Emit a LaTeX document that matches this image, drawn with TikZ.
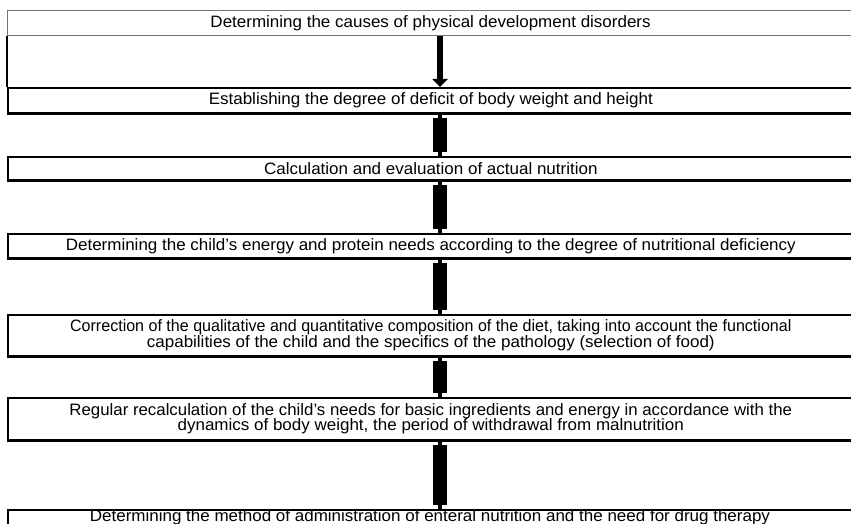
\documentclass[tikz,border=0pt]{standalone}
\usepackage{fontspec}
\usepackage{graphicx}
\setmainfont{Liberation Sans}[FakeStretch=1.03]
\usetikzlibrary{arrows.meta,calc}
\newcommand\boxfont{\fontsize{16.5}{15.5}\selectfont}
\newcommand\hsq[2]{\scalebox{#1}[1]{#2}}
\begin{document}
\begin{tikzpicture}[x=1pt,y=-1pt,
  box/.style={draw=black, line width=1.6pt, minimum width=846pt, inner sep=0pt,
              anchor=north west, align=center, font=\boxfont},
  graybox/.style={box, draw=black!55, line width=1.2pt},
  botline/.style={line width=3pt},
  nub/.style={line width=4pt},
  shaft/.style={line width=14pt},
  txt/.style={font=\boxfont, inner sep=0pt}]
\useasboundingbox (0,0) rectangle (851,524);
\clip (0,0) rectangle (851,524);
\coordinate (ax) at (440,0);

\node[graybox, minimum height=25pt] (b1) at (7,10) {Determining the causes of physical development disorders};
\node[box, minimum height=25pt] (b2) at (7,87) {Establishing the degree of deficit of body weight and height};
\node[box, minimum height=23pt] (b3) at (7,156) {Calculation and evaluation of actual nutrition};
\node[box, minimum height=24pt] (b4) at (7,233) {Determining the child's energy and protein needs according to the degree of nutritional deficiency};
\node[box, minimum height=41pt] (b5) at (7,314) {\hsq{0.945}{Correction of the qualitative and quantitative composition of the diet, taking into account the functional}\\capabilities of the child and the specifics of the pathology (selection of food)};
\node[box, minimum height=42pt] (b6) at (7,397) {\hsq{0.99}{Regular recalculation of the child's needs for basic ingredients and energy in accordance with the}\\dynamics of body weight, the period of withdrawal from malnutrition};
\node[txt, anchor=base] (t7) at (430,521) {Determining the method of administration of enteral nutrition and the need for drug therapy};
\node[box, minimum height=40pt] (b7) at (7,509) {};

\foreach \b in {b2,b3,b4,b5,b6}
  \draw[botline] (\b.south west) -- (\b.south east);

\draw[line width=1.6pt] (b1.south west) -- (b2.north west);

\draw[line width=6pt, -{Triangle[width=15pt,length=8pt]}] (b1.south -| ax) -- (b2.north -| ax);
\foreach \a/\c in {b2/b3,b3/b4,b4/b5,b5/b6,b6/b7}{
  \draw[nub] (\a.south -| ax) -- (\c.north -| ax);
  \draw[shaft] ($(\a.south -| ax)+(0,4)$) -- ($(\c.north -| ax)+(0,-4)$);
}
\end{tikzpicture}
\end{document}
